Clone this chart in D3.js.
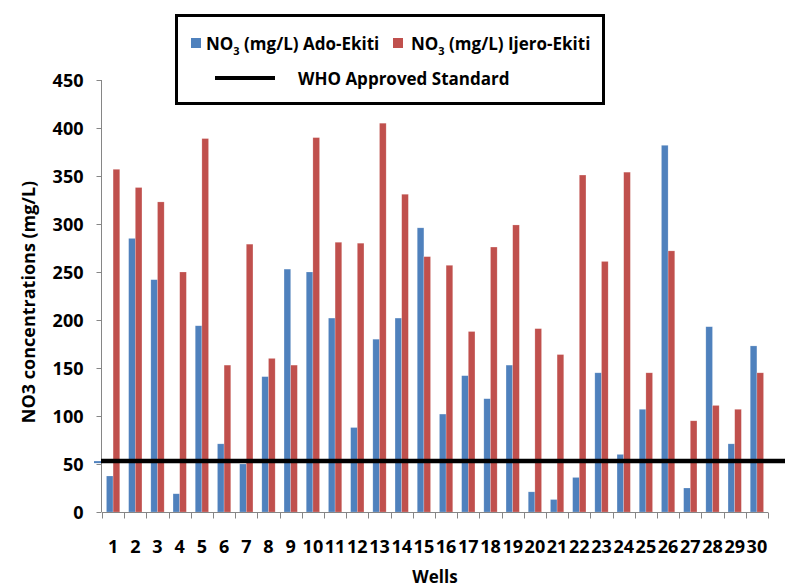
<html>
<head>
<meta charset="utf-8">
<script src="https://d3js.org/d3.v7.min.js"></script>
<style>
  body { margin: 0; background: #fff; }
  svg text { font-family: "Open Sans", "DejaVu Sans", sans-serif; font-weight: bold; fill: #000; }
</style>
</head>
<body>
<svg id="chart" width="785" height="588"></svg>
<script>
// wells on the x axis
var wells = ["1","2","3","4","5","6","7","8","9","10","11","12","13","14","15",
             "16","17","18","19","20","21","22","23","24","25","26","27","28","29","30"];
// NO3 (mg/L)
var ado = [37.5, 285, 242, 19, 194, 71, 50, 141, 253, 250, 202, 88, 180, 202, 296,
           102, 142, 118, 153, 21, 13, 36, 145, 60, 107, 382, 25, 193, 71, 173];
var ijero = [357, 338, 323, 250, 389, 153, 279, 160, 153, 390, 281, 280, 405, 331, 266,
             257, 188, 276, 299, 191, 164, 351, 261, 354, 145, 272, 95, 111, 107, 145];
var whoStandard = 53;
var yTicks = [0, 50, 100, 150, 200, 250, 300, 350, 400, 450];
var seriesNames = ["Ado-Ekiti", "Ijero-Ekiti"];
var colors = ["#4F81BD", "#C0504D"];

var svg = d3.select("#chart");
var plotL = 102, plotR = 768, plotT = 80, plotB = 512;

var x = d3.scaleBand().domain(wells).range([plotL, plotR]).paddingInner(0.4).paddingOuter(0.2);
var xStep = d3.scaleBand().domain(wells).range([plotL, plotR]);
var xs = d3.scaleBand().domain([0, 1]).range([0, x.bandwidth()]);
var y = d3.scaleLinear().domain([0, 450]).range([plotB, plotT]);

var rows = wells.map(function(w, i) { return { well: w, vals: [ado[i], ijero[i]] }; });

// bars
var g = svg.append("g");
rows.forEach(function(r) {
  r.vals.forEach(function(v, k) {
    g.append("rect")
      .attr("x", x(r.well) + xs(k))
      .attr("y", y(v))
      .attr("width", xs.bandwidth())
      .attr("height", y(0) - y(v))
      .attr("fill", colors[k])
      .attr("stroke", "rgba(255,255,255,0.35)")
      .attr("stroke-width", 0.6);
  });
});

// y axis
var yAxis = d3.axisLeft(y).tickValues(yTicks).tickSize(5).tickPadding(13);
var ya = svg.append("g").attr("transform", "translate(" + (plotL - 0.5) + ",0)").call(yAxis);
ya.select(".domain").attr("stroke", "#868686").attr("d", "M0," + plotT + "V" + plotB);
ya.selectAll(".tick line").attr("stroke", "#868686");
ya.selectAll(".tick text").style("font-size", "18px").attr("dy", "0.36em");

// x axis: ticks at the band edges
var xa = svg.append("g").attr("transform", "translate(0," + (plotB + 0.5) + ")");
xa.append("line").attr("x1", plotL).attr("x2", plotR).attr("stroke", "#868686");
var edges = wells.map(function(w) { return xStep(w); }).concat([plotR]);
xa.selectAll(".edge").data(edges).enter().append("line")
  .attr("x1", function(d) { return Math.round(d) + 0.5; })
  .attr("x2", function(d) { return Math.round(d) + 0.5; })
  .attr("y1", 0).attr("y2", 6).attr("stroke", "#868686");
xa.selectAll(".lab").data(wells).enter().append("text")
  .attr("x", function(d) { return xStep(d) + xStep.bandwidth() / 2; })
  .attr("y", 40)
  .attr("text-anchor", "middle")
  .style("font-size", "18px")
  .text(function(d) { return d; });

// WHO line
svg.append("line")
  .attr("x1", plotL - 8).attr("x2", plotL)
  .attr("y1", y(whoStandard) + 1).attr("y2", y(whoStandard) + 1)
  .attr("stroke", colors[0]).attr("stroke-width", 2);
svg.append("line")
  .attr("x1", plotL - 1).attr("x2", 785)
  .attr("y1", y(whoStandard)).attr("y2", y(whoStandard))
  .attr("stroke", "#000").attr("stroke-width", 4.5);

// axis titles
svg.append("text")
  .attr("transform", "translate(35,302) rotate(-90)")
  .attr("text-anchor", "middle")
  .style("font-size", "18px")
  .text("NO3 concentrations (mg/L)");
svg.append("text")
  .attr("x", (plotL + plotR) / 2).attr("y", 583)
  .attr("text-anchor", "middle")
  .style("font-size", "17px")
  .text("Wells");

// legend
var lg = svg.append("g");
lg.append("rect").attr("x", 176.5).attr("y", 15.5).attr("width", 427).attr("height", 88)
  .attr("fill", "#fff").attr("stroke", "#000").attr("stroke-width", 3);
var legX = [191, 393], legT = [206, 411];
seriesNames.forEach(function(n, k) {
  lg.append("rect").attr("x", legX[k]).attr("y", 38).attr("width", 10).attr("height", 10)
    .attr("fill", colors[k]);
  var t = lg.append("text").attr("x", legT[k]).attr("y", 50).style("font-size", "17px");
  t.append("tspan").text("NO");
  t.append("tspan").attr("dy", 5).style("font-size", "11px").text("3");
  t.append("tspan").attr("dy", -5).text(" (mg/L) " + n);
});
lg.append("line").attr("x1", 215).attr("x2", 275).attr("y1", 78).attr("y2", 78)
  .attr("stroke", "#000").attr("stroke-width", 4);
lg.append("text").attr("x", 298).attr("y", 85).style("font-size", "17px").text("WHO Approved Standard");
</script>
</body>
</html>
